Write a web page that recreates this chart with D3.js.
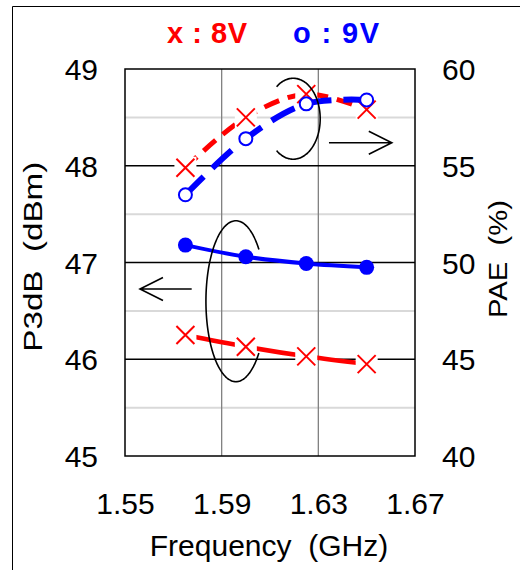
<!DOCTYPE html>
<html lang="en">
<head>
<meta charset="utf-8">
<script src="https://d3js.org/d3.v7.min.js"></script>
<style>
  body { margin: 0; background: #fff; }
  text { font-family: "Liberation Sans", Arial, sans-serif; white-space: pre; }
</style>
</head>
<body>
<div id="my_dataviz"></div>
<script>
// data
var freq = [1.575, 1.6, 1.625, 1.65];
var p3dB_8V = [46.25, 46.13, 46.03, 45.95];
var p3dB_9V = [47.18, 47.06, 46.99, 46.95];
var pae_8V = [54.9, 57.5, 58.7, 57.9];
var pae_9V = [53.5, 56.4, 58.2, 58.4];
var xTicks = [1.55, 1.59, 1.63, 1.67];
var yLeftTicks = [45, 46, 47, 48, 49];
var yLeftMinor = [45.5, 46.5, 47.5, 48.5];
var yRightTicks = [40, 45, 50, 55, 60];

var W = 520, H = 570;
var plot = {left: 125, right: 415, top: 69, bottom: 456};

var svg = d3.select("#my_dataviz")
  .append("svg")
  .attr("width", W)
  .attr("height", H);

// outer frame (only left & top edges are inside the picture)
svg.append("path")
  .attr("d", "M12.5," + H + "V6.5H" + W)
  .attr("fill", "none")
  .attr("stroke", "black")
  .attr("stroke-width", 1);

var x = d3.scaleLinear().domain([1.55, 1.67]).range([plot.left, plot.right]);
var yL = d3.scaleLinear().domain([45, 49]).range([plot.bottom, plot.top]);
var yR = d3.scaleLinear().domain([40, 60]).range([plot.bottom, plot.top]);

// minor grid
svg.append("g").selectAll("line").data(yLeftMinor).enter().append("line")
  .attr("x1", plot.left).attr("x2", plot.right)
  .attr("y1", function(d) { return yL(d); }).attr("y2", function(d) { return yL(d); })
  .attr("stroke", "#d9d9d9").attr("stroke-width", 2);

// vertical grid
svg.append("g").selectAll("line").data(xTicks.slice(1, -1)).enter().append("line")
  .attr("x1", function(d) { return x(d); }).attr("x2", function(d) { return x(d); })
  .attr("y1", plot.top).attr("y2", plot.bottom)
  .attr("stroke", "#808080").attr("stroke-width", 1.3);

// major grid
svg.append("g").selectAll("line").data(yLeftTicks.slice(1, -1)).enter().append("line")
  .attr("x1", plot.left).attr("x2", plot.right)
  .attr("y1", function(d) { return yL(d); }).attr("y2", function(d) { return yL(d); })
  .attr("stroke", "black").attr("stroke-width", 1.3);

// plot border
svg.append("rect")
  .attr("x", plot.left).attr("y", plot.top)
  .attr("width", plot.right - plot.left).attr("height", plot.bottom - plot.top)
  .attr("fill", "none").attr("stroke", "black").attr("stroke-width", 1.5);

// axes
var axL = svg.append("g")
  .attr("transform", "translate(" + (plot.left - 27) + ",0)")
  .call(d3.axisLeft(yL).tickValues(yLeftTicks).tickSize(0).tickPadding(0).tickFormat(d3.format("d")));
var axR = svg.append("g")
  .attr("transform", "translate(" + (plot.right + 27) + ",0)")
  .call(d3.axisRight(yR).tickValues(yRightTicks).tickSize(0).tickPadding(0).tickFormat(d3.format("d")));
var axB = svg.append("g")
  .attr("transform", "translate(0," + (plot.bottom + 36) + ")")
  .call(d3.axisBottom(x).tickValues(xTicks).tickSize(0).tickPadding(0).tickFormat(d3.format(".2f")));
[axL, axR, axB].forEach(function(a) {
  a.select(".domain").remove();
  a.selectAll("text")
    .attr("fill", "black")
    .style("font-family", "'Liberation Sans', Arial, sans-serif")
    .style("font-size", "30px");
});
axL.selectAll("text").attr("dy", "0.35em");
axR.selectAll("text").attr("dy", "0.35em");
axB.selectAll("text").attr("dy", "0.72em");

// axis titles
svg.append("text")
  .attr("x", plot.left + (plot.right - plot.left) / 2 - 1)
  .attr("y", 556)
  .attr("text-anchor", "middle")
  .style("font-size", "30px")
  .text("Frequency  (GHz)");

svg.append("text")
  .attr("transform", "translate(41.5,256.7) rotate(-90)")
  .attr("text-anchor", "middle")
  .attr("textLength", 190)
  .attr("lengthAdjust", "spacingAndGlyphs")
  .style("font-size", "25.6px")
  .text("P3dB  (dBm)");

svg.append("text")
  .attr("transform", "translate(506.5,259) rotate(-90)")
  .attr("text-anchor", "middle")
  .attr("textLength", 118)
  .attr("lengthAdjust", "spacingAndGlyphs")
  .style("font-size", "25.6px")
  .text("PAE  (%)");

// legend text
svg.append("text").attr("x", 167).attr("y", 43)
  .style("font-size", "29px").style("font-weight", "bold").attr("fill", "#ff0000")
  .attr("textLength", 80).attr("lengthAdjust", "spacing")
  .text("x : 8V");
svg.append("text").attr("x", 293).attr("y", 43)
  .style("font-size", "29px").style("font-weight", "bold").attr("fill", "#0000ff")
  .attr("textLength", 86).attr("lengthAdjust", "spacing")
  .text("o : 9V");

// series drawing helpers
function drawLine(vals, yScale, color, width, dash) {
  var line = d3.line()
    .x(function(d, i) { return x(freq[i]); })
    .y(function(d) { return yScale(d); })
    .curve(d3.curveCatmullRom.alpha(0.5));
  svg.append("path")
    .datum(vals)
    .attr("d", line)
    .attr("fill", "none")
    .attr("stroke", color)
    .attr("stroke-width", width)
    .attr("stroke-dasharray", dash);
}

function drawCross(vals, yScale) {
  var g = svg.append("g").selectAll("g").data(vals).enter().append("g")
    .attr("transform", function(d, i) { return "translate(" + x(freq[i]) + "," + yScale(d) + ")"; });
  g.append("rect").attr("x", -11).attr("y", -11).attr("width", 22).attr("height", 22).attr("fill", "white");
  g.append("path").attr("d", "M-9,-9L9,9M-9,9L9,-9")
    .attr("stroke", "#ff0000").attr("stroke-width", 2).attr("fill", "none");
}

function drawCircle(vals, yScale, filled) {
  svg.append("g").selectAll("circle").data(vals).enter().append("circle")
    .attr("cx", function(d, i) { return x(freq[i]); })
    .attr("cy", function(d) { return yScale(d); })
    .attr("r", filled ? 7.5 : 6.5)
    .attr("fill", filled ? "#0000ff" : "white")
    .attr("stroke", "#0000ff")
    .attr("stroke-width", filled ? 0 : 2);
}

// P3dB (left axis)
drawLine(p3dB_8V, yL, "#ff0000", 4.5, null);
drawCross(p3dB_8V, yL);
drawLine(p3dB_9V, yL, "#0000ff", 4, null);
drawCircle(p3dB_9V, yL, true);

// PAE (right axis)
drawLine(pae_8V, yR, "#ff0000", 5, "16,9");
drawCross(pae_8V, yR);
drawLine(pae_9V, yR, "#0000ff", 6, "26,12");
drawCircle(pae_9V, yR, false);

// annotations: open ellipses and arrows
function openEllipse(cx, cy, rx, ry, a0, a1) {
  var pts = d3.range(a0, a1 + 0.5, 2).map(function(a) {
    var t = a * Math.PI / 180;
    return [cx + rx * Math.cos(t), cy + ry * Math.sin(t)];
  });
  svg.append("path")
    .attr("d", d3.line().curve(d3.curveBasis)(pts))
    .attr("fill", "none").attr("stroke", "black").attr("stroke-width", 1.6);
}

function arrow(f0, f1, yv, yScale, dir) {
  var x0 = x(f0), x1 = x(f1), yy = yScale(yv);
  var p = d3.path();
  p.moveTo(x0, yy); p.lineTo(x1, yy);
  p.moveTo(x1 - dir * 23, yy - 11.5); p.lineTo(x1, yy); p.lineTo(x1 - dir * 23, yy + 11.5);
  svg.append("path").attr("d", p.toString())
    .attr("fill", "none").attr("stroke", "black").attr("stroke-width", 1.6);
}

// PAE ellipse (opening to the left) and arrow to the right
openEllipse(x(1.6196), yR(57.43), 27, 40.5, -128, 128);
arrow(1.6344, 1.6604, 56.19, yR, 1);

// P3dB ellipse (opening to the right) and arrow to the left
openEllipse(x(1.5959), yL(46.6), 30, 80.5, 40, 320);
arrow(1.5776, 1.5562, 46.726, yL, -1);
</script>
</body>
</html>
